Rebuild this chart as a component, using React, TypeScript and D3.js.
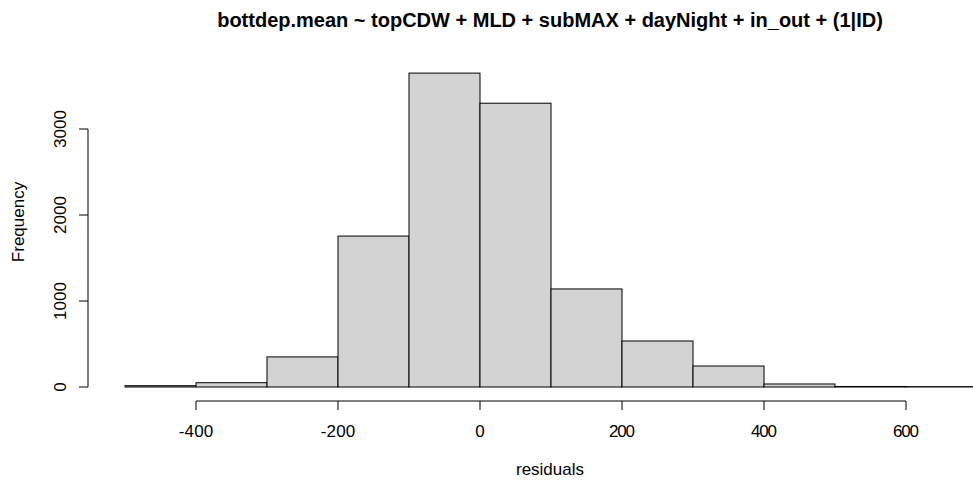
import React from "react";
import * as d3 from "d3";

const binStarts = [-500, -400, -300, -200, -100, 0, 100, 200, 300, 400, 500, 600];
const binWidth = 100;
const counts = [15, 50, 350, 1755, 3650, 3300, 1140, 535, 244, 35, 6, 4];
const xTicks = [-400, -200, 0, 200, 400, 600];
const yTicks = [0, 1000, 2000, 3000];
const title = "bottdep.mean ~ topCDW + MLD + subMAX + dayNight + in_out + (1|ID)";

export default function App() {
  const W = 973, H = 485;
  const x = d3.scaleLinear().domain([0, 200]).range([480, 622]);
  const y = d3.scaleLinear().domain([0, 1000]).range([387, 301]);
  const font = "'Liberation Sans', Arial, sans-serif";
  const axY = 401;
  const axX = 88;
  const fs = 17;
  return (
    <svg width={W} height={H} style={{ position: "absolute", left: 0, top: 0, background: "#fff" }}>
      <text x={550} y={27} textAnchor="middle" fontFamily={font} fontWeight="bold" fontSize={20}>{title}</text>
      <g clipPath="url(#clip)">
        {binStarts.map((b, i) => (
          <rect key={i} x={x(b)} y={y(counts[i])} width={x(b + binWidth) - x(b)} height={y(0) - y(counts[i])}
            fill="#d3d3d3" stroke="#000" strokeWidth={1} />
        ))}
      </g>
      <defs><clipPath id="clip"><rect x={0} y={0} width={W} height={H} /></clipPath></defs>
      <line x1={x(xTicks[0])} x2={x(xTicks[xTicks.length - 1])} y1={axY} y2={axY} stroke="#000" />
      {xTicks.map(t => (
        <g key={t}>
          <line x1={x(t)} x2={x(t)} y1={axY} y2={axY + 9} stroke="#000" />
          <text x={x(t)} y={437} textAnchor="middle" fontFamily={font} fontSize={fs} textLength={String(t).length * 8.6 + (t < 0 ? 0 : 0)}>{t}</text>
        </g>
      ))}
      <line x1={axX} x2={axX} y1={y(yTicks[0])} y2={y(yTicks[yTicks.length - 1])} stroke="#000" />
      {yTicks.map(t => (
        <g key={t}>
          <line x1={axX} x2={axX - 9} y1={y(t)} y2={y(t)} stroke="#000" />
          <text transform={`translate(66,${y(t)}) rotate(-90)`} textAnchor="middle" fontFamily={font} fontSize={fs}>{t}</text>
        </g>
      ))}
      <text x={550} y={475} textAnchor="middle" fontFamily={font} fontSize={fs}>residuals</text>
      <text transform={`translate(24,222) rotate(-90)`} textAnchor="middle" fontFamily={font} fontSize={fs}>Frequency</text>
    </svg>
  );
}
